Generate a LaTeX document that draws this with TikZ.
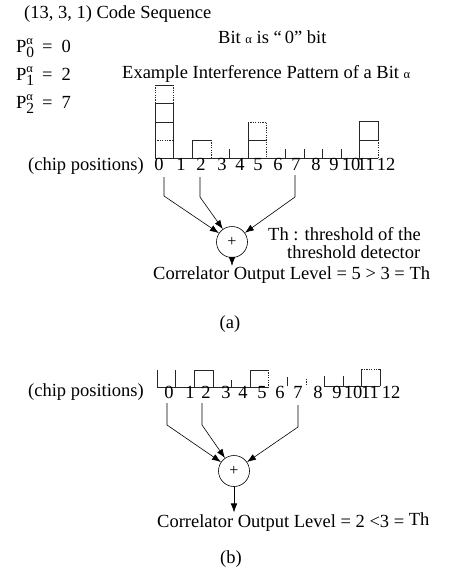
\documentclass[tikz,border=0pt]{standalone}
\usepackage{fontspec}
\setmainfont{Liberation Serif}
\usetikzlibrary{arrows.meta}
\newcommand{\Palpha}[1]{P\makebox[0pt][l]{\raisebox{8pt}{\fontsize{12.5}{12.5}\selectfont α}}\raisebox{-5.5pt}{\fontsize{15.5}{15.5}\selectfont #1}}
\newcommand{\smalpha}{{\fontsize{12.5}{12.5}\selectfont α}}
\begin{document}
\begin{tikzpicture}[x=1pt,y=-1pt,
  txt/.style={inner sep=0pt, anchor=base west, font=\fontsize{18.5}{20}\selectfont},
  num/.style={inner sep=0pt, anchor=base, font=\fontsize{18.5}{20}\selectfont},
  ln/.style={line width=0.6pt, draw=black!85},
  dl/.style={ln, dash pattern=on 1.2pt off 1.2pt},
  conn/.style={line width=0.6pt},
  arr/.style={conn, -{Latex[length=9pt,width=6.5pt]}},
  adder/.style={circle, draw, line width=0.6pt, minimum size=31pt, inner sep=0pt, font=\fontsize{16}{16}\selectfont}]
\useasboundingbox (0,0) rectangle (450,574);

% ---------- headings ----------
\node[txt] (title) at (24,18) {(13, 3, 1) Code Sequence};
\node[txt] (bit) at (218,43) {Bit \smalpha\ is “\,0” bit};
\node[txt] (p0) at (16,52) {\Palpha{0}\hspace{8pt}=\hspace{9pt}0};
\node[txt] (p1) at (16,80) {\Palpha{1}\hspace{8pt}=\hspace{9pt}2};
\node[txt] (p2) at (16,108) {\Palpha{2}\hspace{8pt}=\hspace{9pt}7};
\node[txt] (ex) at (122,78) {Example Interference Pattern of a Bit \smalpha};

% ---------- (a) interference pattern ----------
\draw[ln] (155,158.5) -- (378.2,158.5);
% chip 0 (4 units)
\draw[ln] (155,158.5) -- (155,103) (173.6,158.5) -- (173.6,103);
\draw[dl] (155,103) -- (155,85) (173.6,103) -- (173.6,85);
\draw[ln] (155,85) -- (173.6,85) (155,103) -- (173.6,103) (155,122) -- (173.6,122);
\draw[dl] (155,140) -- (173.6,140);
% chip 2
\draw[ln] (192.2,158.5) -- (192.2,140) -- (210.8,140);
\draw[dl] (210.8,140) -- (210.8,158.5);
% chip 5
\draw[ln] (248,158.5) -- (248,122) (248,140) -- (266.6,140);
\draw[dl] (248,122) -- (266.6,122) -- (266.6,158.5);
% chip 11
\draw[ln] (359.6,158.5) -- (359.6,121) -- (378.2,121) -- (378.2,140) (359.6,140) -- (378.2,140);
\draw[dl] (378.2,140) -- (378.2,158.5);
% short ticks
\foreach \x in {229.4,285.2,303.8,322.4,341} \draw[ln] (\x,158.5) -- (\x,148.5);

\node[txt] (cpa) at (28,170) {(chip positions)};
\foreach \k/\x in {0/159,1/181,2/201,3/222,4/240,5/258,6/278,7/296,8/316,9/334,10/351,11/366,12/386}
  \node[num] (la\k) at (\x,170) {\k};

% connectors (a)
\node[adder] (sa) at (232,242) {+};
\coordinate (a0t) at (164,177); \coordinate (a0b) at (164,196);
\coordinate (a2t) at (200,177); \coordinate (a2b) at (200,197);
\coordinate (a7t) at (295,175); \coordinate (a7b) at (295,197);
\draw[arr] (a0t) -- (a0b) -- (sa);
\draw[arr] (a2t) -- (a2b) -- (sa);
\draw[arr] (a7t) -- (a7b) -- (sa);
\node[txt] (th1) at (268,240) {Th : threshold of the};
\node[txt] (th2) at (287,258) {threshold detector};
\node[txt] (ta) at (153,279) {Correlator Output Level = 5 > 3 = Th};
\draw[arr] (sa) -- (sa |- ta.north);
\node[num] (capa) at (230,328) {(a)};

% ---------- (b) pattern ----------
\draw[ln] (157,387) -- (268.6,387);
\draw[ln] (324.4,386) -- (380.2,386);
% chip 0
\draw[ln] (157,387) -- (157,370) (175.6,387) -- (175.6,370);
% chip 2
\draw[ln] (194.2,387) -- (194.2,370) -- (212.8,370) -- (212.8,387);
% chip 5
\draw[ln] (250,387) -- (250,370) -- (268.6,370);
\draw[dl] (268.6,370) -- (268.6,387);
% chip 11
\draw[ln] (361.6,386) -- (361.6,369) (380.2,386) -- (380.2,369);
\draw[dl] (361.6,369) -- (380.2,369);
% ticks
\draw[ln] (231.4,387) -- (231.4,380);
\draw[ln] (287.2,386) -- (287.2,377);
\draw[dl] (305.8,385) -- (305.8,378);
\draw[ln] (324.4,386) -- (324.4,376) (343,386) -- (343,376);

\node[txt] (cpb) at (28,396) {(chip positions)};
\foreach \k/\x in {0/169,1/190,2/206,3/226,4/243,5/262,6/280,7/298,8/318,9/337,10/353,11/370,12/391}
  \node[num] (lb\k) at (\x,398) {\k};

% connectors (b)
\node[adder] (sb) at (234,471) {+};
\coordinate (b0t) at (167,403); \coordinate (b0b) at (167,425);
\coordinate (b2t) at (202,403); \coordinate (b2b) at (202,425);
\coordinate (b7t) at (298,405); \coordinate (b7b) at (298,427);
\draw[arr] (b0t) -- (b0b) -- (sb);
\draw[arr] (b2t) -- (b2b) -- (sb);
\draw[arr] (b7t) -- (b7b) -- (sb);
\node[txt] (tb) at (157,527) {Correlator Output Level = 2 <3 = \raisebox{1.5pt}{Th}};
\draw[arr] (sb) -- (sb |- tb.north);
\node[num] (capb) at (231,563) {(b)};
\end{tikzpicture}
\end{document}
